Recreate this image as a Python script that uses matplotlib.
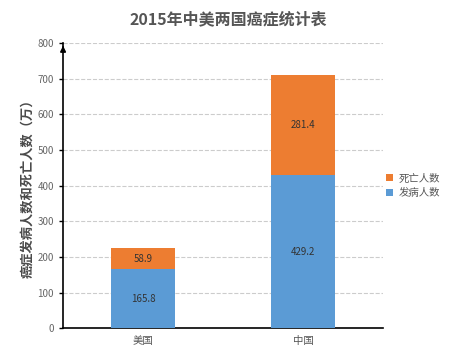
import numpy as np
import matplotlib.pyplot as plt

plt.rcParams['font.family'] = ['Noto Sans CJK SC', 'DejaVu Sans']

countries = ['美国', '中国']
incidence = [165.8, 429.2]
deaths = [58.9, 281.4]
yticks = [0, 100, 200, 300, 400, 500, 600, 700, 800]

blue = '#5B9BD5'
orange = '#ED7D31'

fig = plt.figure(figsize=(4.57, 3.61), dpi=100)
ax = fig.add_axes([0.138, 0.091, 0.700, 0.790])

x = np.arange(len(countries))
b1 = ax.bar(x, incidence, width=0.4, color=blue, label='发病人数', zorder=3)
b2 = ax.bar(x, deaths, width=0.4, bottom=incidence, color=orange, label='死亡人数', zorder=3)

for rect, v in zip(b1, incidence):
    ax.text(rect.get_x() + rect.get_width() / 2, rect.get_y() + rect.get_height() / 2,
            f'{v}', ha='center', va='center', fontsize=7, color='#333333', zorder=4)
for rect, v in zip(b2, deaths):
    ax.text(rect.get_x() + rect.get_width() / 2, rect.get_y() + rect.get_height() / 2,
            f'{v}', ha='center', va='center', fontsize=7, color='#333333', zorder=4)

ax.set_xlim(-0.5, 1.5)
ax.set_ylim(0, 800)
ax.set_yticks(yticks)
ax.set_xticks(x)
ax.set_xticklabels(countries)
ax.tick_params(axis='y', labelsize=7, colors='#666666', length=3, width=1)
ax.tick_params(axis='y', color='black')
ax.tick_params(axis='x', labelsize=7.5, colors='#555555', length=0, pad=6)
ax.grid(axis='y', linestyle='--', color='#cccccc', linewidth=0.8, zorder=0)

for s in ['top', 'right']:
    ax.spines[s].set_visible(False)
ax.spines['left'].set_color('black')
ax.spines['bottom'].set_color('black')
ax.spines['left'].set_linewidth(1.2)
ax.spines['bottom'].set_linewidth(1.2)

# arrow on top of y axis
ax.annotate('', xy=(0, 1.0), xytext=(0, 0.97), xycoords='axes fraction',
            arrowprops=dict(arrowstyle='-|>', color='black', lw=1.2, mutation_scale=8))

ax.set_ylabel('癌症发病人数和死亡人数（万）', fontsize=9.5, fontweight='bold', color='#4a4a4a', labelpad=2)

fig.suptitle('2015年中美两国癌症统计表', x=0.5, y=0.968, fontsize=11.5, fontweight='bold', color='#555555')

handles, labels = ax.get_legend_handles_labels()
ax.legend(handles[::-1], labels[::-1], loc='center left', bbox_to_anchor=(0.99, 0.5),
          frameon=False, fontsize=7.5, handlelength=0.7, handleheight=0.7,
          handletextpad=0.5, labelcolor='#555555', borderaxespad=0.2)

fig.savefig('out.png', dpi=100)
